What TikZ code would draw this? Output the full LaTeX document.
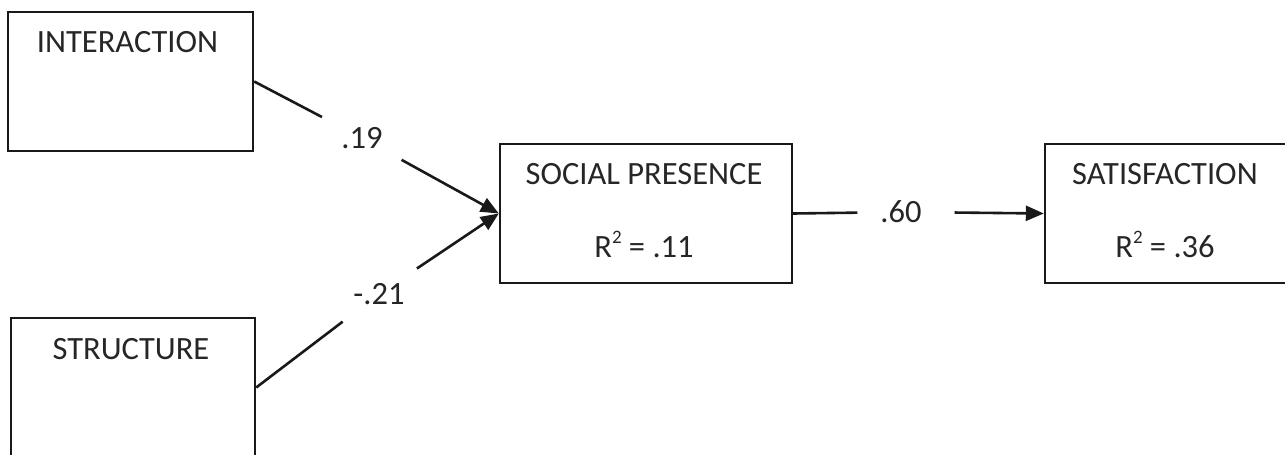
\documentclass[tikz,border=0pt]{standalone}
\usepackage{fontspec}
\setmainfont{Carlito}
\usetikzlibrary{arrows.meta}
\newcommand{\sqr}{\raisebox{0.42em}{\fontsize{19}{20}\selectfont 2}}
\begin{document}
\begin{tikzpicture}[x=1pt,y=-1pt,
  box/.style={draw=black!90, line width=2.4pt, minimum width=#1, minimum height=139pt, inner sep=0pt},
  txt/.style={anchor=base, inner sep=0pt, text=black!85, font=\fontsize{32.5}{38}\selectfont},
  wlabel/.style={circle, minimum size=#1, inner sep=0pt, text=black!85, font=\fontsize{32.5}{38}\selectfont},
  conn/.style={line width=2.6pt, draw=black!90},
  tip/.style={-{Triangle[length=18pt,width=15pt]}}]
\useasboundingbox (0,0) rectangle (1285,455);
\clip (0,0) rectangle (1285,455);

% boxes
\node[box=245pt] (int) at (130.5,81.5) {};
\node[box=244pt] (str) at (133,387.5) {};
\node[box=292pt] (sp) at (646,213.5) {};
\node[box=250pt] (sat) at (1170,213.5) {};

% texts
\node[txt] (tint) at (127.5,52) {INTERACTION};
\node[txt] (tstr) at (131,359) {STRUCTURE};
\node[txt] (tsp) at (644,184) {SOCIAL PRESENCE};
\node[txt] (tspr) at (644,257) {R\sqr\ = .11};
\node[txt] (tsat) at (1165,184) {SATISFACTION};
\node[txt] (tsatr) at (1165,257) {R\sqr\ = .36};

% weight labels
\node[wlabel=90pt] (w19) at (362,138) {.19};
\node[wlabel=91pt] (w21) at (379,294) {-.21};
\node[wlabel=97pt] (w60) at (906,212) {\hspace*{-10pt}.60};

% connectors
\draw[conn] (int.east) -- (w19);
\draw[conn,tip] (w19) -- (sp.west);
\draw[conn] (str.east) -- (w21);
\draw[conn,tip] (w21) -- (sp.west);
\draw[conn] (sp.east) -- (w60);
\draw[conn,tip] (w60) -- (sat.west);
\end{tikzpicture}
\end{document}
